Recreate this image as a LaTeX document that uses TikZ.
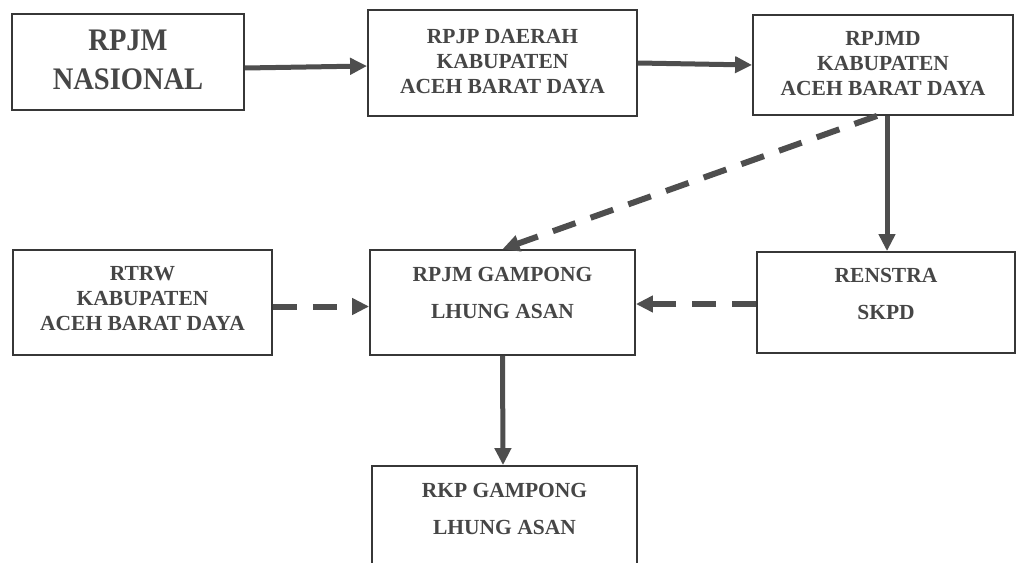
\documentclass[tikz,border=0pt]{standalone}
\usepackage{fontspec}
\setmainfont{Liberation Serif}
\usetikzlibrary{arrows.meta}
\definecolor{ink}{RGB}{70,70,70}
\definecolor{frame}{RGB}{55,55,55}
\definecolor{arrc}{RGB}{78,78,78}
\newcommand{\Lift}[1]{\rule[-#1]{0pt}{0pt}}
\begin{document}
\begin{tikzpicture}[x=1pt,y=-1pt,
  box/.style={draw=frame, line width=1.8pt, rectangle, inner sep=0pt, text=ink,
    font=\bfseries\fontsize{21.5}{25}\selectfont},
  big/.style={font=\bfseries\fontsize{28.5}{36}\selectfont},
  arr/.style={draw=arrc, line width=5pt, -{Triangle[length=17pt,width=16pt]}},
  darr/.style={arr, line width=6pt, dash pattern=on 24pt off 16pt},
]
\useasboundingbox (0,0) rectangle (1016,562);
\clip (0,0) rectangle (1016,562);
\fill[white] (0,0) rectangle (1016,562);

\node[box, big, minimum width=232pt, minimum height=96pt] (n1) at (128,62)
  {\scalebox{1}[1.1]{\begin{tabular}{@{}c@{}}RPJM\\NASIONAL\end{tabular}}};
\node[box, minimum width=269pt, minimum height=106pt] (n2) at (502.5,63)
  {\begin{tabular}{@{}c@{}}RPJP DAERAH\\KABUPATEN\\ACEH BARAT DAYA\end{tabular}};
\node[box, minimum width=260pt, minimum height=100pt] (n3) at (883,65)
  {\begin{tabular}{@{}c@{}}RPJMD\\KABUPATEN\\ACEH BARAT DAYA\end{tabular}};
\node[box, minimum width=259pt, minimum height=105pt] (n4) at (142.5,302.5)
  {\begin{tabular}{@{}c@{}}RTRW\\KABUPATEN\\ACEH BARAT DAYA\Lift{11pt}\end{tabular}};
\node[box, minimum width=265pt, minimum height=105pt] (n5) at (502.5,302.5)
  {\begin{tabular}{@{}c@{}}RPJM GAMPONG\\[12pt]LHUNG ASAN\Lift{23pt}\end{tabular}};
\node[box, minimum width=258pt, minimum height=101pt] (n6) at (886,302.5)
  {\begin{tabular}{@{}c@{}}RENSTRA\\[12pt]SKPD\Lift{20pt}\end{tabular}};
\node[box, minimum width=265pt, minimum height=105pt] (n7) at (504.5,518.5)
  {\begin{tabular}{@{}c@{}}RKP GAMPONG\\[12pt]LHUNG ASAN\Lift{23.5pt}\end{tabular}};

\draw[arr] ([yshift=-6pt]n1.east) -- ([yshift=-3pt]n2.west);
\draw[arr] (n2.east) -- (n3.west);
\draw[arr] ([xshift=4pt]n3.south) -- ([xshift=1pt]n6.north);
\draw[darr] ([xshift=-6pt]n3.south) -- (n5.north);
\draw[darr] ([yshift=-1.5pt]n6.west) -- ([yshift=-1.5pt]n5.east);
\draw[darr] ([yshift=-4pt]n4.east) -- ([yshift=-4pt]n5.west);
\draw[arr] (n5.south) -- ([xshift=-1.5pt]n7.north);
\end{tikzpicture}
\end{document}
